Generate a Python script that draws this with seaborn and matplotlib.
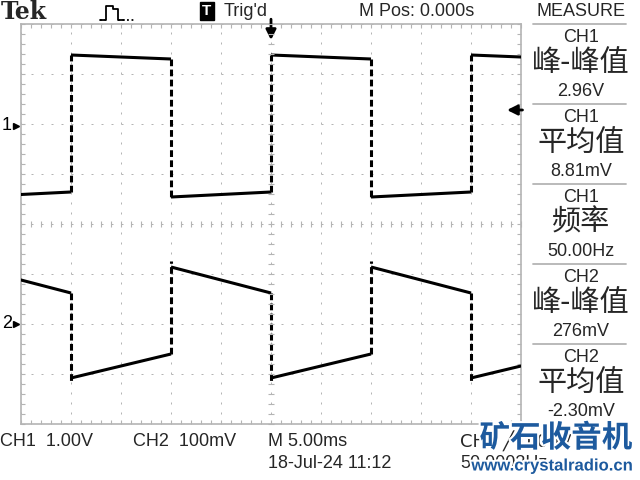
import matplotlib
matplotlib.use("Agg")
import matplotlib.pyplot as plt
import matplotlib.patheffects as pe
import matplotlib.transforms as mtransforms
from matplotlib.lines import Line2D
from matplotlib.ticker import MultipleLocator
import pandas as pd
import seaborn as sns

# ---- values ----
ms_per_div = 5.0
edge_times_ms = [-30, -20, -10, 0, 10, 20, 30]

ch1_volts_per_div = 1.0
ch1_offset_div = 1.96
ch1_first_level = "low"          # half period that starts at -30 ms
ch1_high_v = [1.42, 1.34]        # start / end of a high half period
ch1_low_v = [-1.42, -1.32]

ch2_volts_per_div = 0.1
ch2_offset_div = -2.0
ch2_first_level = "high"
ch2_high_v = [0.114, 0.062]
ch2_low_v = [-0.108, -0.060]
ch2_high_peak_v = 0.126
ch2_low_peak_v = -0.118

trig_level_v = 0.32

measure_channels = ["CH1", "CH1", "CH1", "CH2", "CH2"]
measure_names = ["峰-峰值", "平均值", "频率", "峰-峰值", "平均值"]
measure_values = ["2.96V", "8.81mV", "50.00Hz", "276mV", "-2.30mV"]

W, H = 640, 480
GRID_GRAY = "#b4b4b4"
SANS = ["Liberation Sans", "DejaVu Sans"]
CJK = ["Noto Sans CJK SC", "DejaVu Sans"]


def build_trace(name, first, high, low, vpd, offset, seg_base, peaks=None):
    """Sloped half periods plus the vertical edges between them."""
    rows, edges = [], []
    level = first
    prev_end = None
    for i, (t0, t1) in enumerate(zip(edge_times_ms[:-1], edge_times_ms[1:])):
        a, b = high if level == "high" else low
        rows.append((name, seg_base + i, t0, offset + a / vpd))
        rows.append((name, seg_base + i, t1, offset + b / vpd))
        if prev_end is not None:
            target = a
            if peaks is not None:
                target = peaks[0] if level == "high" else peaks[1]
            edges.append((t0, offset + prev_end / vpd, offset + target / vpd))
        prev_end = b
        level = "low" if level == "high" else "high"
    return rows, edges


rows1, edges1 = build_trace("CH1", ch1_first_level, ch1_high_v, ch1_low_v,
                            ch1_volts_per_div, ch1_offset_div, 0)
rows2, edges2 = build_trace("CH2", ch2_first_level, ch2_high_v, ch2_low_v,
                            ch2_volts_per_div, ch2_offset_div, 100,
                            peaks=(ch2_high_peak_v, ch2_low_peak_v))
df = pd.DataFrame(rows1 + rows2, columns=["channel", "seg", "t", "div"])

sns.set_theme(style="white")
plt.rcParams["font.family"] = SANS

fig = plt.figure(figsize=(6.4, 4.8), dpi=100)
fig.patch.set_facecolor("white")


def fx(x):
    return x / W


def fy(y):
    return 1 - y / H


ax = fig.add_axes([fx(21), fy(424), 500 / W, 400 / H])
ax.set_xlim(-5 * ms_per_div, 5 * ms_per_div)
ax.set_ylim(-4, 4)

# graticule: dotted division lines, ticked border
ax.xaxis.set_major_locator(MultipleLocator(ms_per_div))
ax.xaxis.set_minor_locator(MultipleLocator(ms_per_div / 5))
ax.yaxis.set_major_locator(MultipleLocator(1))
ax.yaxis.set_minor_locator(MultipleLocator(0.2))
ax.grid(True, which="major", color=GRID_GRAY, linewidth=0.72, linestyle=(0, (2, 8)))
ax.tick_params(which="both", direction="in", length=3, width=0.8, color=GRID_GRAY,
               top=True, right=True, bottom=True, left=True,
               labelbottom=False, labelleft=False)
for s in ax.spines.values():
    s.set_color(GRID_GRAY)
    s.set_linewidth(1.2)

# centre cross ticks
cx = fig.add_axes(ax.get_position(), sharex=ax, sharey=ax)
cx.patch.set_visible(False)
cx.grid(False)
cx.spines["top"].set_visible(False)
cx.spines["right"].set_visible(False)
cx.spines["left"].set_position(("data", 0))
cx.spines["bottom"].set_position(("data", 0))
cx.spines["left"].set_color("none")
cx.spines["bottom"].set_color("none")
cx.tick_params(which="both", direction="inout", length=5, width=0.8, color=GRID_GRAY,
               labelbottom=False, labelleft=False, bottom=True, left=True)

# traces
sns.lineplot(data=df, x="t", y="div", units="seg", estimator=None, color="black",
             linewidth=2.2, legend=False, ax=ax, zorder=5)
ax.set(xlabel="", ylabel="")
for line in ax.lines:
    line.set_solid_capstyle("butt")
for t, y0, y1 in edges1 + edges2:
    ax.vlines(t, y0, y1, colors="black", linewidth=2.2, linestyles=(0, (2.2, 1.1)), zorder=5)

# channel ground markers
blend = mtransforms.blended_transform_factory(ax.transAxes, ax.transData)
for label, off in (("1", ch1_offset_div), ("2", ch2_offset_div)):
    ax.text(-0.038, off, label, transform=blend, ha="left", va="center",
            fontsize=13, color="black", clip_on=False)
    ax.plot([-0.011], [off], marker=">", markersize=4.5, color="black",
            transform=blend, clip_on=False)

# trigger level and trigger position arrows
trig_div = ch1_offset_div + trig_level_v / ch1_volts_per_div
ax.annotate("", xy=(0.972, trig_div), xytext=(1.003, trig_div), xycoords=blend,
            textcoords=blend,
            arrowprops=dict(arrowstyle="-|>", color="black", lw=2,
                            mutation_scale=15, shrinkA=0, shrinkB=0))
tblend = mtransforms.blended_transform_factory(ax.transData, ax.transAxes)
ax.annotate("", xy=(0, 0.96), xytext=(0, 1.012), xycoords=tblend, textcoords=tblend,
            arrowprops=dict(arrowstyle="-|>", color="black", lw=2,
                            mutation_scale=15, shrinkA=0, shrinkB=0))

# header
fig.text(fx(1), fy(12), "Tek", fontsize=17, fontweight="bold",
         family=["DejaVu Serif"], va="center", ha="left")
icon_x = [100, 106, 106, 113, 113, 118, 118, 124]
icon_y = [20, 20, 6, 6, 9, 9, 20, 20]
fig.add_artist(Line2D([fx(v) for v in icon_x], [fy(v) for v in icon_y],
                      color="black", lw=1.3))
fig.add_artist(Line2D([fx(100), fx(106)], [fy(20), fy(20)], color="black", lw=1.3,
                      linestyle=(0, (1, 1.5))))
fig.add_artist(Line2D([fx(118), fx(134)], [fy(20), fy(20)], color="black", lw=1.3,
                      linestyle=(0, (1, 1.5))))
fig.text(fx(207), fy(11), "T", fontsize=11, color="white", fontweight="bold",
         ha="center", va="center",
         bbox=dict(boxstyle="square,pad=0.15", fc="black", ec="black"))
fig.text(fx(224), fy(11), "Trig'd", fontsize=13, ha="left", va="center")
fig.text(fx(359), fy(11), "M Pos: 0.000s", fontsize=13, ha="left", va="center")
fig.text(fx(581), fy(11), "MEASURE", fontsize=13, ha="center", va="center")

# measurement panel
for i, (ch, name, val) in enumerate(zip(measure_channels, measure_names, measure_values)):
    top = 24 + 80 * i
    fig.add_artist(Line2D([fx(533), fx(626)], [fy(top), fy(top)],
                          color=GRID_GRAY, lw=1.3))
    fig.text(fx(581), fy(top + 13), ch, fontsize=13, ha="center", va="center")
    fig.text(fx(581), fy(top + 39), name, fontsize=21, ha="center", va="center",
             family=CJK)
    fig.text(fx(581), fy(top + 67), val, fontsize=13, ha="center", va="center")

# footer
fig.text(fx(0), fy(441), "CH1  1.00V", fontsize=13, ha="left", va="center")
fig.text(fx(133), fy(441), "CH2  100mV", fontsize=13, ha="left", va="center")
fig.text(fx(268), fy(441), "M 5.00ms", fontsize=13, ha="left", va="center")
fig.text(fx(460), fy(441), "CH1 ╱ 0.00V", fontsize=13, ha="left", va="center",
         family=["DejaVu Sans"])
fig.text(fx(268), fy(464), "18-Jul-24 11:12", fontsize=13, ha="left", va="center")
fig.text(fx(460), fy(464), "50.0003Hz", fontsize=13, ha="left", va="center")

# watermark
halo = [pe.withStroke(linewidth=3, foreground="white")]
fig.text(fx(632), fy(438), "矿石收音机", fontsize=22, fontweight="bold",
         color="#1d5a9e", ha="right", va="center", family=CJK, path_effects=halo)
fig.text(fx(632), fy(466), "www.crystalradio.cn", fontsize=12, fontweight="bold",
         color="#1d5a9e", ha="right", va="center",
         family=["Liberation Sans", "DejaVu Sans"], path_effects=halo)

fig.savefig("out.png", dpi=100, facecolor="white")
